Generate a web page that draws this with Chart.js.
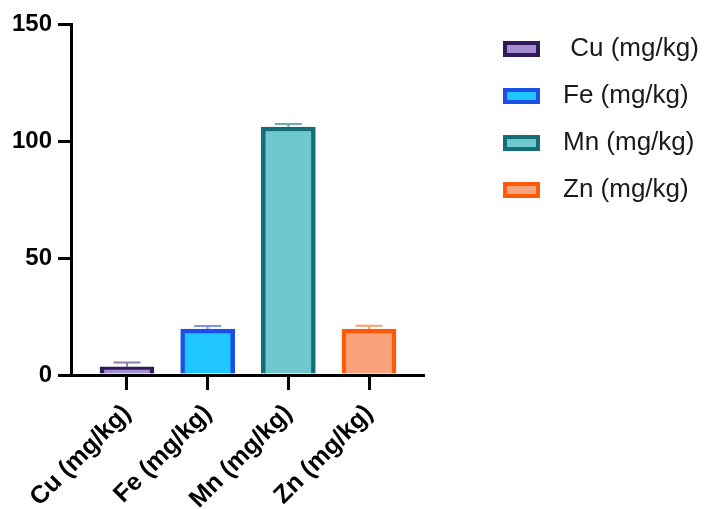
<!DOCTYPE html>
<html><head><meta charset="utf-8">
<script src="https://cdn.jsdelivr.net/npm/chart.js@4.4.1/dist/chart.umd.min.js"></script>
<style>html,body{margin:0;padding:0;background:#fff;}canvas{display:block;}</style>
</head><body>
<canvas id="c" width="715" height="509"></canvas>
<script>
const categories = ['Cu (mg/kg)', 'Fe (mg/kg)', 'Mn (mg/kg)', 'Zn (mg/kg)'];
const seriesNames = [' Cu (mg/kg)', 'Fe (mg/kg)', 'Mn (mg/kg)', 'Zn (mg/kg)'];
const meanValues = [3.5, 19.6, 106, 19.6];
const errorValues = [1.8, 1.3, 1.3, 1.4];
const yTicks = [0, 50, 100, 150];
const fillColors = ['#a58fd3', '#20c6ff', '#70c8ce', '#f9a37d'];
const borderColors = ['#2e1b58', '#1a4fe8', '#136e78', '#ff5a0a'];
const capColors = ['rgba(46,27,88,0.55)', 'rgba(26,79,232,0.6)', 'rgba(19,110,120,0.6)', 'rgba(255,90,10,0.6)'];

const FONT = 'Liberation Sans, Arial, Helvetica, sans-serif';
Chart.defaults.font.family = FONT;

const LEG_PAD = 21;
const LEG_ITEM_LEFT = 503;
const LEG_TOP = 15;
const PLOT_RIGHT = 423;

function swatch(fill, stroke) {
  const c = document.createElement('canvas');
  c.width = 47; c.height = 16;
  const g = c.getContext('2d');
  g.fillStyle = stroke; g.fillRect(0, 0, 37, 16);
  g.fillStyle = fill; g.fillRect(4, 4, 29, 8);
  return c;
}

const errorBars = {
  id: 'errorBars',
  afterDatasetsDraw(chart) {
    const ctx = chart.ctx, ys = chart.scales.y;
    chart.data.datasets.forEach((ds, i) => {
      const el = chart.getDatasetMeta(i).data[0];
      if (!el) return;
      const x = el.x, yTop = el.y;
      const yErr = ys.getPixelForValue(meanValues[i] + errorValues[i]);
      ctx.save();
      ctx.strokeStyle = capColors[i];
      ctx.lineWidth = 2;
      ctx.beginPath();
      ctx.moveTo(x, yTop); ctx.lineTo(x, yErr);
      ctx.moveTo(x - 13.5, yErr); ctx.lineTo(x + 13.5, yErr);
      ctx.stroke();
      ctx.restore();
    });
  }
};

const legendShift = {
  id: 'legendShift',
  afterLayout(chart) {
    const l = chart.legend;
    if (!l) return;
    const dx = LEG_ITEM_LEFT - LEG_PAD - l.left;
    const dy = LEG_TOP - l.top;
    l.left += dx; l.right += dx; l.top += dy; l.bottom += dy;
  }
};

const chart = new Chart(document.getElementById('c'), {
  type: 'bar',
  data: {
    datasets: categories.map((c, i) => ({
      label: seriesNames[i],
      data: [{ x: i, y: meanValues[i] }],
      backgroundColor: fillColors[i],
      borderColor: borderColors[i],
      borderWidth: 4.5,
      pointStyle: swatch(fillColors[i], borderColors[i]),
      barThickness: 54,
      grouped: false
    }))
  },
  options: {
    responsive: false,
    animation: false,
    devicePixelRatio: 1,
    layout: { padding: { top: 24, left: 0, right: 70, bottom: 0 } },
    plugins: {
      legend: {
        position: 'right',
        align: 'start',
        maxWidth: 400,
        labels: {
          usePointStyle: true,
          pointStyleWidth: 47,
          boxHeight: 16,
          padding: LEG_PAD,
          color: '#1a1a1a',
          font: { size: 26, weight: 'normal' }
        }
      },
      tooltip: { enabled: false }
    },
    scales: {
      x: {
        type: 'linear',
        offset: false,
        min: -0.694,
        max: 3.669,
        afterBuildTicks: s => { s.ticks = categories.map((_, i) => ({ value: i })); },
        afterFit: s => { s.height = 134; },
        grid: { offset: false, drawOnChartArea: false, tickLength: 15, lineWidth: 3, color: '#000', z: 1 },
        border: { color: '#000', width: 3, z: 1 },
        ticks: {
          color: '#000', font: { size: 25, weight: 'bold' },
          minRotation: 45, maxRotation: 45, autoSkip: false, padding: 9,
          callback: v => categories[v]
        }
      },
      y: {
        min: 0, max: 150,
        afterBuildTicks: s => { s.ticks = yTicks.map(v => ({ value: v })); },
        afterFit: s => { s.width = 71; },
        grid: { drawOnChartArea: false, tickLength: 13, lineWidth: 3, color: '#000' },
        border: { color: '#000', width: 3 },
        ticks: { color: '#000', font: { size: 24, weight: 'bold' }, padding: 6 }
      }
    }
  },
  plugins: [errorBars, legendShift]
});

chart.options.layout.padding.right = Math.max(0, 715 - PLOT_RIGHT - chart.legend.width);
chart.update();
</script>
</body></html>
